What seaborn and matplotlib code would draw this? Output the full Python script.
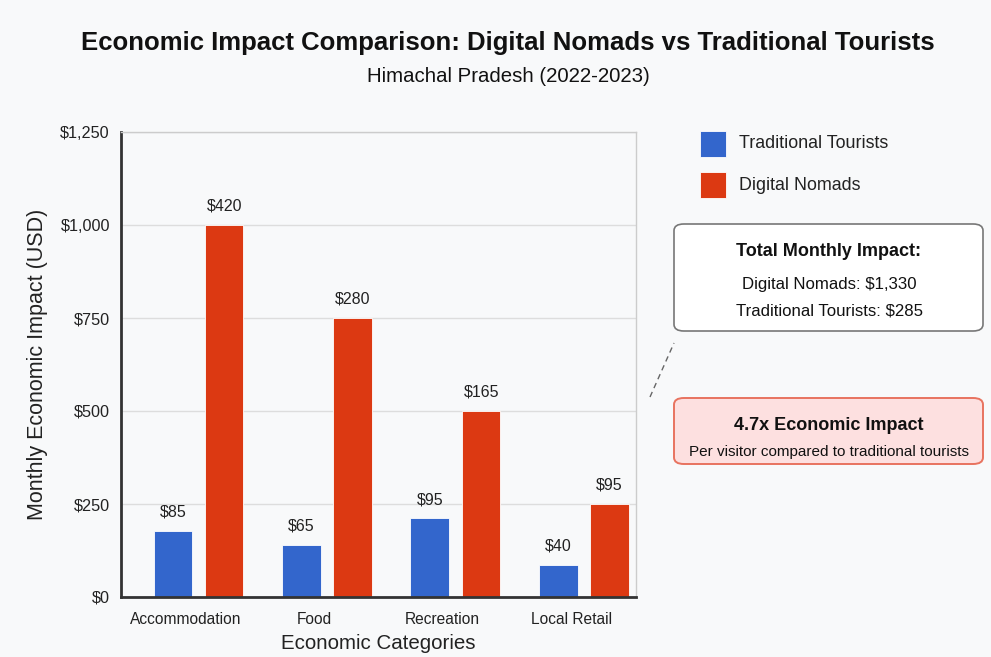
import matplotlib
matplotlib.use("Agg")
import matplotlib.pyplot as plt
import seaborn as sns
import pandas as pd
from matplotlib.patches import FancyBboxPatch, Rectangle
from matplotlib.lines import Line2D

# data
categories = ["Accommodation", "Food", "Recreation", "Local Retail"]
groups = ["Traditional Tourists", "Digital Nomads"]
traditional_heights = [178, 141, 212, 87]
nomad_heights = [1000, 750, 500, 250]
traditional_labels = ["$85", "$65", "$95", "$40"]
nomad_labels = ["$420", "$280", "$165", "$95"]
y_ticks = [0, 250, 500, 750, 1000, 1250]
y_tick_labels = ["$0", "$250", "$500", "$750", "$1,000", "$1,250"]
colors = ["#3366cc", "#dc3912"]

BG = "#f8f9fa"
W, H = 991, 657

df = pd.DataFrame({
    "category": categories * 2,
    "group": [groups[0]] * 4 + [groups[1]] * 4,
    "value": traditional_heights + nomad_heights,
})

sns.set_theme(style="white")
plt.rcParams["font.family"] = ["Liberation Sans", "DejaVu Sans"]

fig = plt.figure(figsize=(W / 100, H / 100), dpi=100, facecolor=BG)
ax = fig.add_axes([121 / W, 1 - 597 / H, (636 - 121) / W, (597 - 132) / H])
ax.set_facecolor(BG)

sns.barplot(data=df, x="category", y="value", hue="group", order=categories,
            hue_order=groups, palette=colors, width=0.8, gap=0.25,
            ax=ax, legend=False, saturation=1, edgecolor="#ffffff", linewidth=0.6)

for cont, labels in zip(ax.containers, [traditional_labels, nomad_labels]):
    ax.bar_label(cont, labels=labels, padding=8, fontsize=11.5, color="#222222")

ax.set_xlim(-0.603, 3.405)
ax.set_ylim(0, 1250)
ax.set_yticks(y_ticks)
ax.set_yticklabels(y_tick_labels, fontsize=11.7, color="#222222")
ax.set_xticks([i - 0.1 for i in range(len(categories))])
ax.set_xticklabels(categories, fontsize=11.2, color="#222222")
ax.tick_params(axis="both", length=0)
ax.tick_params(axis="y", pad=8)
ax.tick_params(axis="x", pad=11)
ax.yaxis.grid(True, color="#dddddd", linewidth=1)
ax.set_axisbelow(True)
for side in ["top", "right"]:
    ax.spines[side].set_visible(True)
    ax.spines[side].set_color("#cccccc")
    ax.spines[side].set_linewidth(1)
for side in ["left", "bottom"]:
    ax.spines[side].set_color("#333333")
    ax.spines[side].set_linewidth(2)

ax.set_xlabel("Economic Categories", fontsize=14.8, color="#222222", labelpad=5)
ax.set_ylabel("Monthly Economic Impact (USD)", fontsize=15.5, color="#222222", labelpad=9)

fig.text(508 / W, 1 - 43 / H, "Economic Impact Comparison: Digital Nomads vs Traditional Tourists",
         ha="center", va="center", fontsize=18.5, fontweight="bold", color="#111111")
fig.text(508 / W, 1 - 77 / H, "Himachal Pradesh (2022-2023)",
         ha="center", va="center", fontsize=14.7, color="#111111")

# legend
for i, (g, c) in enumerate(zip(groups, colors)):
    y0 = 131 + i * 41
    fig.patches.append(Rectangle((700 / W, 1 - (y0 + 26) / H), 26 / W, 26 / H,
                                 transform=fig.transFigure, facecolor=c,
                                 edgecolor="#ffffff", linewidth=0.6))
    fig.text(739 / W, 1 - (y0 + 13) / H, g, ha="left", va="center",
             fontsize=12.9, color="#222222")

# totals box
fig.patches.append(FancyBboxPatch((674 / W, 1 - 331 / H), 309 / W, 107 / H,
                                  boxstyle="round,pad=0,rounding_size=0.01",
                                  transform=fig.transFigure, facecolor="white",
                                  edgecolor="#777777", linewidth=1.2))
fig.text(829 / W, 1 - 252 / H, "Total Monthly Impact:", ha="center", va="center",
         fontsize=13, fontweight="bold", color="#111111")
fig.text(829 / W, 1 - 285 / H, "Digital Nomads: $1,330", ha="center", va="center",
         fontsize=12.1, color="#111111")
fig.text(829 / W, 1 - 311 / H, "Traditional Tourists: $285", ha="center", va="center",
         fontsize=12.1, color="#111111")

fig.lines.append(Line2D([650 / W, 674 / W], [1 - 397 / H, 1 - 343 / H],
                        transform=fig.transFigure, color="#666666",
                        linewidth=1, linestyle=(0, (4, 3))))

# ratio box
fig.patches.append(FancyBboxPatch((674 / W, 1 - 464 / H), 309 / W, 66 / H,
                                  boxstyle="round,pad=0,rounding_size=0.01",
                                  transform=fig.transFigure, facecolor="#fde0e0",
                                  edgecolor="#e8735f", linewidth=1.4))
fig.text(829 / W, 1 - 425 / H, "4.7x Economic Impact", ha="center", va="center",
         fontsize=13, fontweight="bold", color="#111111")
fig.text(829 / W, 1 - 452 / H, "Per visitor compared to traditional tourists",
         ha="center", va="center", fontsize=11, color="#111111")

fig.savefig("out.png", dpi=100, facecolor=BG)
